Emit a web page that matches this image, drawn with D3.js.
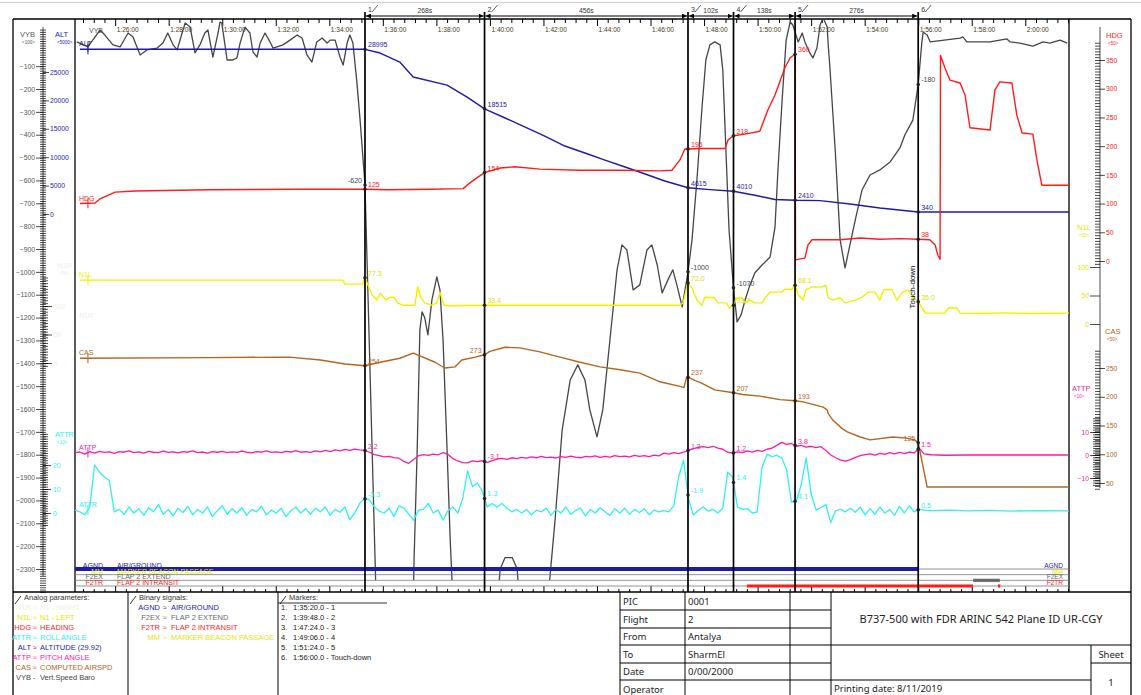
<!DOCTYPE html>
<html><head><meta charset="utf-8">
<script src="https://cdn.jsdelivr.net/npm/d3@7"></script>
<style>
body{margin:0;background:#fff;}
svg{display:block;font-family:"Liberation Sans",Arial,sans-serif;}
</style></head><body>
<svg id="chart" width="1141" height="695"></svg>
<script>
// recording starts 1:24:30, all times below are seconds after that
const T0 = 5070;
const T_END = 2228;

const markerTimes = [650, 918, 1374, 1476, 1614, 1890];
const markerClock = ["1:35:20.0","1:39:48.0","1:47:24.0","1:49:06.0","1:51:24.0","1:56:00.0"];
const markerDesc  = ["1","2","3","4","5","Touch-down"];

const timeTicks = ["1:26:00","1:28:00","1:30:00","1:32:00","1:34:00","1:36:00","1:38:00","1:40:00","1:42:00",
  "1:44:00","1:46:00","1:48:00","1:50:00","1:52:00","1:54:00","1:56:00","1:58:00","2:00:00"];

// ---- analog parameters [t, value] ----
const ALT = [[11,28995],[650,28995],[684,28340],[728,26750],[758,24110],[834,22700],[879,20590],[918,18515],
  [964,16900],[1009,15310],[1053,13730],[1098,11970],[1143,10740],[1188,9500],[1233,8270],[1278,7040],[1322,5810],
  [1374,4615],[1423,4300],[1476,4010],[1524,3300],[1569,2550],[1614,2410],[1670,2350],[1737,1760],[1804,1060],
  [1890,340],[2228,340]];

const HDG = [[11,100],[45,101],[56,108],[90,120],[135,122],[300,124],[500,125],[650,125],[700,124],[800,125],
  [870,126],[885,136],[903,146],[918,154],[953,162],[986,164],[1042,160],[1132,158],[1222,158],[1311,157],
  [1338,158],[1356,176],[1367,195],[1374,195],[1401,196],[1457,196],[1464,211],[1476,218],[1502,221],[1535,226],
  [1553,263],[1569,289],[1591,336],[1603,354],[1614,360],[1615,2],[1636,5],[1643,28],[1652,37],[1715,37],
  [1760,40],[1804,38],[1849,39],[1890,38],[1916,37],[1928,28],[1934,10],[1939,3],[1940,358],[1950,336],
  [1961,315],[1984,310],[1995,289],[2006,232],[2051,228],[2062,298],[2073,312],[2100,310],[2111,254],
  [2123,223],[2147,221],[2156,176],[2167,132],[2228,132]];

const N1L = [[11,77],[300,77],[600,77],[605,70],[645,70],[650,81],[657,68],[666,51],[677,42],[684,54],[697,42],
  [706,47],[715,47],[723,37],[734,33],[762,33],[768,65],[775,47],[784,37],[800,33],[811,37],[818,56],[827,33],
  [841,32],[918,33],[1356,33],[1363,37],[1370,60],[1374,72],[1383,63],[1394,42],[1405,33],[1412,47],[1434,46],
  [1441,37],[1461,37],[1466,28],[1476,33],[1484,46],[1495,46],[1502,37],[1513,42],[1524,37],[1540,37],[1547,46],
  [1558,56],[1585,56],[1591,61],[1607,61],[1614,68],[1621,51],[1632,42],[1638,60],[1652,65],[1674,65],[1683,68],
  [1688,46],[1699,42],[1715,46],[1726,37],[1749,42],[1764,47],[1778,56],[1793,56],[1804,42],[1813,60],[1831,60],
  [1842,42],[1855,56],[1867,60],[1878,47],[1890,39],[1906,19],[1950,19],[1957,28],[1977,28],[1984,19],
  [2030,18.5],[2080,19.5],[2140,18.5],[2228,19]];

const CAS = [[11,267],[300,268],[480,269],[550,264],[605,257],[650,254],[684,260],[728,267],[758,276],[773,271],
  [807,260],[829,250],[852,252],[867,264],[897,269],[918,273],[930,279],[964,286],[997,285],[1042,278],[1087,269],
  [1132,260],[1177,252],[1222,247],[1266,241],[1311,226],[1356,218],[1365,216],[1370,232],[1374,234],[1390,228],
  [1401,225],[1434,212],[1476,207],[1497,204],[1535,201],[1580,195],[1614,193],[1632,191],[1677,182],[1686,177],
  [1688,171],[1699,159],[1719,145],[1731,139],[1760,130],[1782,125],[1833,130],[1864,128],[1882,125],[1890,120],
  [1901,78],[1910,43],[1939,43],[2228,43]];

const VYB = [[4,6],[29,-16],[45,28],[56,58],[67,36],[85,-7],[101,-16],[119,45],[130,28],[146,-51],[161,-29],
  [184,-21],[197,1],[208,45],[220,-7],[229,-29],[240,45],[247,89],[258,71],[269,-42],[280,-7],[291,45],[298,58],
  [309,-60],[321,49],[325,93],[329,89],[341,-73],[354,-73],[363,-64],[370,1],[381,71],[392,45],[399,-38],[408,-60],
  [415,1],[426,45],[437,6],[444,-21],[466,-7],[482,14],[498,36],[509,23],[520,-51],[531,-82],[542,6],[554,23],
  [565,1],[572,14],[583,14],[594,-60],[601,-95],[610,1],[616,36],[623,1],[632,-174],[639,-336],[650,-620],
  [657,-1123],[666,-1779],[675,-2435],[684,-2870],[700,-3100],[740,-3100],[755,-2700],[760,-2260],[767,-1779],
  [773,-1254],[778,-1175],[784,-1201],[791,-1276],[800,-1123],[811,-1022],[818,-1079],[825,-1298],[834,-1779],
  [841,-2172],[847,-2435],[860,-2900],[920,-2900],[941,-2600],[953,-2300],[964,-2250],[980,-2250],[991,-2300],
  [1002,-2600],[1020,-2900],[1045,-2900],[1060,-2435],[1076,-2086],[1092,-1691],[1110,-1473],[1127,-1407],
  [1143,-1473],[1154,-1604],[1170,-1722],[1183,-1604],[1199,-1298],[1215,-991],[1226,-882],[1237,-904],
  [1251,-1079],[1266,-1057],[1282,-904],[1293,-882],[1305,-970],[1316,-1092],[1329,-1035],[1340,-991],
  [1349,-1057],[1361,-1153],[1374,-1000],[1383,-860],[1394,-598],[1405,-292],[1414,-73],[1423,-7],[1434,6],
  [1446,-7],[1452,-117],[1459,-467],[1466,-817],[1476,-1070],[1484,-1219],[1493,-1188],[1502,-1123],[1513,-1057],
  [1524,-1004],[1540,-970],[1558,-935],[1569,-804],[1576,-541],[1585,-248],[1594,14],[1603,93],[1609,80],
  [1614,49],[1621,6],[1630,45],[1636,6],[1647,-42],[1654,-64],[1663,-21],[1670,80],[1677,111],[1686,71],
  [1688,1],[1692,-104],[1704,-467],[1715,-860],[1726,-983],[1737,-882],[1749,-773],[1764,-642],[1782,-576],
  [1804,-554],[1827,-519],[1849,-458],[1860,-401],[1872,-358],[1878,-336],[1890,-180],[1898,1],[1901,49],
  [1910,36],[1917,6],[1984,23],[1990,28],[1999,6],[2051,6],[2073,14],[2089,19],[2096,6],[2118,1],[2147,-12],
  [2170,6],[2185,1],[2208,14],[2224,1]];

// roll and pitch are sampled every 11 s up to just after touch-down, then a few points
const GRID_STEP = 11;
const ATTR_GRID = [1.2,0.5,-0.8,2.5,20,17,15,13.5,0.5,1.5, -0.5,2.5,0,1.8,-1,2.2,0.5,3.5,-0.5,1.5,
  -1.2,2,0.2,2.8,-0.8,1.5,0,2.5,-1.5,1, 3,-0.5,1.8,0,2.2,-1,1.5,0.5,2.8,-0.8, 1.2,0,2,-1.5,1,2.5,0,1.8,-0.5,2,
  0.5,2.5,-1,1.5,0.3,2.5,-2.8,0,4,6, 5.5,2.5,0.8,0,2,-1.5,3,2,-0.5,-3, 1.2,1.5,4,0,1.2,-3,1,2.5,0,6,
  17.5,11,12.5,9,2.5,4,2.5,4,2,0.5, 1.5,0,1.5,-0.8,1.2,0.5,2,-1,1.5,0, 2.5,-0.5,1,2,-1.2,1.5,0,2.2,0.5,-1,
  1.8,0,2,-0.5,1.5,0.2,1.8,-0.8,1.2,0.5, 1,0.5,3,15,22,6,-0.8,1,2.5,0.8, 1.5,0,2,17,15,2.5,1.5,1.8,0,0.5,
  19,24.5,23.5,24,23,18,4.5,5,12,23, 8,1.2,2.3,3.5,-4,1,1.5,0.5,2,0.3, 2.5,-0.8,1.8,-0.5,2.5,0,1.5,-1,2.8,0,
  3,0.5,1.5,1.2];
const ATTR_TAIL = [[1920,1.0],[1960,1.2],[2000,0.9],[2050,1.1],[2100,0.8],[2160,1.0],[2228,0.9]];

const ATTP_GRID = [1.0,1.3,0.4,1.5,0.8,1.6,1.1,1.4,0.7,1.5, 1.2,1.8,1.0,1.4,0.8,1.6,1.2,1.0,1.7,1.1,
  1.4,0.9,1.5,1.2,1.8,1.0,1.3,0.8,1.5,1.2, 1.6,1.0,1.4,1.1,1.7,1.2,0.9,1.5,1.3,1.8, 1.1,1.4,1.0,1.6,1.3,1.9,1.2,1.5,1.1,1.8,
  1.4,2.0,1.5,2.2,1.8,2.4,2.0,2.6,2.2,2.0, 1.2,0.2,-0.3,-0.8,-0.6,-1.1,-1.4,-2.8,-3.6,-2.0,
  -0.3,0.2,-0.2,0.4,0.1,1.0,0.3,-1.6,-2.6,-3.3, -3.4,-2.6,-2.9,-2.5,-3.2,-2.4,-1.8,-1.5,-1.9,-1.2,
  -1.6,-1.0,-1.4,-0.8,-1.2,-0.6,-1.1,-0.9,-1.3,-0.7, -1.0,-0.5,-0.9,-1.2,-0.6,-0.8,-0.4,-1.0,-0.6,-0.9,
  -0.3,-0.7,-0.5,-0.8,-0.2,-0.6,-0.3,-0.7,-0.1,-0.4, 0.8,0.4,1.0,0.6,1.2,2.0,2.8,3.3,3.6,3.2,
  3.8,3.0,2.5,1.2,0.8,1.4,1.0,1.8,1.3,2.0, 1.6,2.5,3.0,4.2,5.5,4.6,5.0,3.8,4.2,3.4,
  3.8,3.2,3.6,2.0,0,-1.2,-2.2,-2.7,-2.0,-1.0, -0.3,0.2,0.5,-0.1,0.7,0.3,1.0,0.5,1.1,0.6, 1.3,0.9,3.0,0.5];
const ATTP_TAIL = [[1920,0.1],[1950,-0.1],[2000,0],[2228,0]];

// value annotations at the six markers
const ALT_LBL  = ["28995","18515","4615","4010","2410","340"];
const HDG_LBL  = ["125","154","195","218","360","38"];
const VYB_LBL  = ["-620","","-1000","-1070","","-180"];
const N1L_LBL  = ["77.3","33.4","72.0","33.7","68.1","35.0"];
const CAS_LBL  = ["254","273","237","207","193","125"];
const ATTP_LBL = ["2.2","-3.1","1.3","1.2","3.8","1.5"];
const ATTR_LBL = ["-3.3","1.3","-1.9","1.4","4.1","0.5"];

// ---- binary signals: on intervals ----
const binCodes = ["AGND","MM","F2EX","F2TR"];
const binNames = ["AIR/GROUND","MARKER BEACON PASSAGE","FLAP 2 EXTEND","FLAP 2 INTRANSIT"];
const AGND_ON = [[0,1890]];
const MM_ON = [];
const F2EX_ON = [[2013,2073]];
const F2TR_ON = [[1506,2013],[2069,2074]];

// ---- legend / table texts ----
const analogCodes = ["N1R","N1L","HDG","ATTR","ALT","ATTP","CAS","VYB"];
const analogNames = ["N1 - RIGHT","N1 - LEFT","HEADING","ROLL ANGLE","ALTITUDE (29.92)","PITCH ANGLE","COMPUTED AIRSPD","Vert.Speed Baro"];
const infoKeys = ["PIC","Flight","From","To","Date","Operator"];
const infoVals = ["0001","2","Antalya","SharmEl"," 0/00/2000",""];
const titleText = "B737-500 with FDR ARINC 542  Plane ID UR-CGY";
const printDate = "Printing date:  8/11/2019";

// ================== drawing ==================
const svg = d3.select("#chart");
const P = {l:75, r:1069, t:19, b:592};
const colors = {VYB:"#454545", ALT:"#1c1ca8", HDG:"#ff1c1c", N1L:"#f2f200", N1R:"#f4f4ee",
  CAS:"#b5651d", ATTP:"#ff1aa8", ATTR:"#2ef2f2", AGND:"#1c1ca8", MM:"#e8e800", F2EX:"#6a6a6a", F2TR:"#ff1c1c"};
const fmt = d3.format("d");

const x = d3.scaleLinear().domain([0, T_END]).range([P.l, P.r]);
const yVYB = d3.scaleLinear().domain([0,-2300]).range([43.3,569]);
const yALT = d3.scaleLinear().domain([0,25000]).range([214,72]);
const yHDG = d3.scaleLinear().domain([0,350]).range([261,60]);
const yN1L = d3.scaleLinear().domain([0,100]).range([324,267]);
const yN1R = d3.scaleLinear().domain([0,100]).range([363,306]);
const yCAS = d3.scaleLinear().domain([50,250]).range([483,368]);
const yATTP = d3.scaleLinear().domain([-10,10]).range([478,432]);
const yATTR = d3.scaleLinear().domain([0,20]).range([513,465]);

const onGrid = vals => vals.map((v,i)=>[i*GRID_STEP, v]);
const ATTR = onGrid(ATTR_GRID).concat(ATTR_TAIL);
const ATTP = onGrid(ATTP_GRID).concat(ATTP_TAIL);

function clockSec(s){ const p = s.split(":").map(Number); return p[0]*3600+p[1]*60+p[2]-T0; }

function ln(g, x1,y1,x2,y2, stroke="#000", w=1){
  return g.append("line").attr("x1",x1).attr("y1",y1).attr("x2",x2).attr("y2",y2)
    .attr("stroke",stroke).attr("stroke-width",w);
}
function tx(g, xx, yy, s, opt={}){
  return g.append("text").attr("x",xx).attr("y",yy).text(s)
    .attr("font-size",opt.size||7).attr("fill",opt.fill||"#000")
    .attr("text-anchor",opt.anchor||"start")
    .attr("font-family",opt.font||null).attr("font-weight",opt.weight||null);
}

// thin grey line at very top
ln(svg, 0, 2.5, 1141, 2.5, "#cfcfcf", 1);

// ---- frame ----
const frame = svg.append("g");
ln(frame, 13, P.t, 1131, P.t, "#000", 1.3);
ln(frame, 13, P.t, 13, 695, "#000", 1.3);
ln(frame, 1131, P.t, 1131, 695, "#000", 1.3);
ln(frame, P.l, P.t, P.l, P.b, "#000", 1.3);
ln(frame, P.r, P.t, P.r, P.b, "#000", 1.3);

// ---- time axes ----
const majorT = timeTicks.map(clockSec);
const minorT = d3.range(majorT[0]-72, T_END, 24).filter(t=>t>0 && majorT.indexOf(t)<0);

const topAx = svg.append("g").attr("transform",`translate(0,${P.t})`);
topAx.call(d3.axisBottom(x).tickValues(minorT).tickSize(4).tickFormat(""));
topAx.append("g").call(d3.axisBottom(x).tickValues(majorT).tickSize(7).tickFormat((d,i)=>timeTicks[i]));
topAx.selectAll(".domain").remove();
topAx.selectAll("line").attr("stroke","#000");
topAx.selectAll("text").attr("text-anchor","start").attr("x",1).attr("y",8).attr("dy","0.71em")
  .attr("font-size",6.6).attr("fill","#4a3a10").attr("font-family","Liberation Sans, Arial");

const botAx = svg.append("g").attr("transform",`translate(0,${P.b})`);
botAx.call(d3.axisTop(x).tickValues(minorT).tickSize(3).tickFormat(""));
botAx.append("g").call(d3.axisTop(x).tickValues(majorT).tickSize(6).tickFormat(""));
botAx.selectAll(".domain").remove();
botAx.selectAll("line").attr("stroke","#000");

// ---- left rulers ----
const left = svg.append("g");
const LX = 43;
ln(left, LX, 27, LX, 576, "#000", 1.2);
left.append("g").attr("transform",`translate(${LX},0)`)
  .call(d3.axisLeft(yVYB).tickValues(d3.range(-2400, 70, 10)).tickSize(3).tickFormat(""));
left.append("g").attr("transform",`translate(${LX},0)`)
  .call(d3.axisRight(yVYB).tickValues(d3.range(-2400, 70, 10)).tickSize(3).tickFormat(""));
left.append("g").attr("class","lab").attr("transform",`translate(${LX},0)`)
  .call(d3.axisLeft(yVYB).tickValues(d3.range(-100,-2301,-100)).tickSize(7).tickPadding(1).tickFormat(fmt))
  .selectAll("text").attr("fill","#555");
left.append("g").attr("class","lab").attr("transform",`translate(${LX},0)`)
  .call(d3.axisRight(yALT).tickValues(d3.range(0,25001,5000)).tickSize(6).tickPadding(1).tickFormat(fmt))
  .selectAll("text").attr("fill",colors.ALT);
left.append("g").attr("transform",`translate(${LX},0)`)
  .call(d3.axisRight(yN1R).tickValues(d3.range(-5,155,5)).tickSize(5).tickFormat(""));
left.append("g").attr("class","lab").attr("transform",`translate(${LX},0)`)
  .call(d3.axisRight(yN1R).tickValues([0,50,100]).tickSize(9).tickPadding(2).tickFormat(fmt))
  .selectAll("text").attr("fill","#eeeee0");
left.append("g").attr("transform",`translate(${LX},0)`)
  .call(d3.axisRight(yATTR).tickValues(d3.range(-5,34,1)).tickSize(5).tickFormat(""));
left.append("g").attr("class","lab").attr("transform",`translate(${LX},0)`)
  .call(d3.axisRight(yATTR).tickValues([0,10,20]).tickSize(8).tickPadding(2).tickFormat(fmt))
  .selectAll("text").attr("fill",colors.ATTR);

// ---- right rulers ----
const right = svg.append("g");
const RX = 1100;
ln(right, RX, 27, RX, 488, "#000", 1.2);
right.append("g").attr("transform",`translate(${RX},0)`)
  .call(d3.axisLeft(yHDG).tickValues(d3.range(-5,385,5)).tickSize(5).tickFormat(""));
right.append("g").attr("class","lab").attr("transform",`translate(${RX},0)`)
  .call(d3.axisRight(yHDG).tickValues(d3.range(0,351,50)).tickSize(5).tickPadding(1).tickFormat(fmt))
  .selectAll("text").attr("fill",colors.HDG);
right.append("g").attr("transform",`translate(${RX},0)`)
  .call(d3.axisLeft(yCAS).tickValues(d3.range(40,282,5)).tickSize(5).tickFormat(""));
right.append("g").attr("class","lab").attr("transform",`translate(${RX},0)`)
  .call(d3.axisRight(yCAS).tickValues(d3.range(50,251,50)).tickSize(5).tickPadding(1).tickFormat(fmt))
  .selectAll("text").attr("fill",colors.CAS);
right.append("g").attr("class","lab").attr("transform",`translate(${RX},0)`)
  .call(d3.axisLeft(yN1L).tickValues([0,50,100]).tickSize(10).tickPadding(1).tickFormat(fmt))
  .selectAll("text").attr("fill","#e6e600");
right.append("g").attr("transform",`translate(${RX},0)`)
  .call(d3.axisLeft(yATTP).tickValues(d3.range(-13,17,1)).tickSize(7).tickFormat(""));
right.append("g").attr("class","lab").attr("transform",`translate(${RX},0)`)
  .call(d3.axisLeft(yATTP).tickValues([-10,0,10]).tickSize(10).tickPadding(1).tickFormat(fmt))
  .selectAll("text").attr("fill",colors.ATTP);

svg.selectAll(".domain").remove();
svg.selectAll(".lab text").attr("font-size",6.8).attr("font-family","Liberation Sans, Arial");
left.selectAll("line").attr("stroke","#000").attr("stroke-width",0.7);
right.selectAll("line").attr("stroke","#000").attr("stroke-width",0.7);

// axis headers
function header(xx, yy, name, unit, col, anchor){
  tx(svg, xx, yy, name, {size:7.5, fill:col, anchor:anchor});
  tx(svg, xx+ (anchor==="end"?0:2), yy+7, unit, {size:4.5, fill:col, anchor:anchor});
}
header(20, 37, "VYB", "<100>", "#555");
header(55, 37, "ALT", "<5000>", colors.ALT);
header(57, 268, "N1R", "<50>", "#eeeee4");
header(55, 437, "ATTR", "<10>", colors.ATTR);
header(1106, 38, "HDG", "<50>", colors.HDG);
header(1077, 230, "N1L", "<50>", "#e6e600");
header(1105, 334, "CAS", "<50>", colors.CAS);
header(1072, 391, "ATTP", "<10>", colors.ATTP);

// ---- series ----
svg.append("clipPath").attr("id","pc").append("rect")
  .attr("x",P.l).attr("y",P.t).attr("width",P.r-P.l).attr("height",580-P.t);
const plot = svg.append("g").attr("clip-path","url(#pc)");

const series = [
  {key:"VYB", data:VYB, y:yVYB, lbl:VYB_LBL, w:1.3},
  {key:"ALT", data:ALT, y:yALT, lbl:ALT_LBL, w:1.4},
  {key:"HDG", data:HDG, y:yHDG, lbl:HDG_LBL, w:1.4},
  {key:"N1L", data:N1L, y:yN1L, lbl:N1L_LBL, w:1.4},
  {key:"CAS", data:CAS, y:yCAS, lbl:CAS_LBL, w:1.4},
  {key:"ATTP", data:ATTP, y:yATTP, lbl:ATTP_LBL, w:1.3},
  {key:"ATTR", data:ATTR, y:yATTR, lbl:ATTR_LBL, w:1.3}
];
const bis = d3.bisector(d=>d[0]).left;
function valAt(data, t){
  const i = Math.max(1, Math.min(data.length-1, bis(data, t)));
  const a = data[i-1], b = data[i];
  return a[1] + (b[1]-a[1]) * (t-a[0]) / ((b[0]-a[0])||1);
}

series.forEach(s=>{
  const line = d3.line().x(d=>x(d[0])).y(d=>s.y(d[1]));
  plot.append("path").datum(s.data).attr("d",line).attr("fill","none")
    .attr("stroke",colors[s.key]).attr("stroke-width",s.w).attr("stroke-linejoin","round");
  // start cross
  const y0 = s.y(valAt(s.data, 29));
  ln(plot, x(29), y0-5, x(29), y0+5, colors[s.key], 1);
  // name near the left edge
  if (s.key !== "VYB")
    tx(plot, P.l+4, s.y(s.data[0][1]) - 3, s.key, {size:7, fill:colors[s.key]});
});
tx(plot, P.l+14, 33, "VYB", {size:7, fill:"#555"});
tx(plot, P.l+4, 318, "N1R", {size:7, fill:"#eeeee4"});

// ---- binary signals ----
const yBin = d3.scalePoint().domain(binCodes).range([569, 586]);
const bin = svg.append("g");
binCodes.forEach(c=>{
  ln(bin, P.l, yBin(c), P.r, yBin(c), "#7a7a7a", 0.8);
});
const binOn = {AGND:AGND_ON, MM:MM_ON, F2EX:F2EX_ON, F2TR:F2TR_ON};
binCodes.forEach(c=>{
  binOn[c].forEach(iv=>{
    ln(bin, x(iv[0]), yBin(c), x(iv[1]), yBin(c), colors[c], c==="AGND"?4:3.2);
  });
});
binCodes.forEach((c,i)=>{
  const yy = yBin(c) - 1;
  tx(bin, P.l+28, yy, c, {size:7, fill:colors[c], anchor:"end"});
  tx(bin, P.l+42, yy, binNames[i], {size:7, fill:colors[c]});
  tx(bin, P.r-6, yy, c, {size:6.5, fill:colors[c], anchor:"end"});
});

// ---- markers ----
const mk = svg.append("g");
svg.append("defs").html(
  '<marker id="ar" viewBox="0 0 6 6" refX="6" refY="3" markerWidth="5" markerHeight="5" orient="auto-start-reverse"><path d="M0,0L6,3L0,6z" fill="#000"/></marker>');
markerTimes.forEach((t,i)=>{
  const mx = x(t);
  ln(mk, mx, 12, mx, P.b, "#000", 1.7);
  tx(mk, mx+3, 12, String(i+1), {size:7, fill:"#333"});
  ln(mk, mx+7, 12, mx+13, 5, "#333", 0.8);
  if (i>0){
    const px = x(markerTimes[i-1]);
    mk.append("line").attr("x1",px+1).attr("y1",16).attr("x2",mx-1).attr("y2",16)
      .attr("stroke","#000").attr("stroke-width",1)
      .attr("marker-start","url(#ar)").attr("marker-end","url(#ar)");
    tx(mk, (px+mx)/2, 13, (t-markerTimes[i-1])+"s", {size:6.8, fill:"#333", anchor:"middle"});
  }
});
mk.append("text").attr("transform",`translate(${x(markerTimes[5])-3},${287}) rotate(-90)`)
  .attr("text-anchor","middle").attr("font-size",8).text("Touch-down");

// values at markers
const leftSide = {VYB:[0], CAS:[1,5]};
series.forEach(s=>{
  markerTimes.forEach((t,i)=>{
    if (!s.lbl[i]) return;
    const v = valAt(s.data, t);
    const yy = s.y(v);
    if (yy < P.t || yy > 580) return;
    mk.append("circle").attr("cx",x(t)).attr("cy",yy).attr("r",1.8).attr("fill","#222");
    const onLeft = (leftSide[s.key]||[]).indexOf(i) >= 0;
    tx(mk, x(t) + (onLeft?-3:3), yy-2, s.lbl[i],
      {size:7, fill: s.key==="N1L" ? "#e0e000" : (s.key==="VYB" ? "#444" : colors[s.key]), anchor: onLeft?"end":"start"});
  });
});

// ---- bottom table ----
const tb = svg.append("g").attr("font-family","Liberation Sans, Arial");
ln(tb, 13, P.b, 1131, P.b, "#000", 1.3);
[128, 278, 620, 685, 790, 831].forEach(xx=>ln(tb, xx, P.b, xx, 695, "#000", 1));
ln(tb, 1091, 645, 1091, 695, "#000", 1);
[610,628,645,663,680].forEach(yy=>ln(tb, 620, yy, 831, yy, "#000", 1));
ln(tb, 831, 645, 1131, 645, "#000", 1);
ln(tb, 831, 680, 1091, 680, "#000", 1);
ln(tb, 1091, 663, 1131, 663, "#000", 1);

// section headers
[[13,"Analog parameters:"],[128,"Binary signals:"],[278,"Markers:"]].forEach(h=>{
  ln(tb, h[0]+2, 604, h[0]+8, 596, "#000", 0.8);
  tx(tb, h[0]+11, 600, h[1], {size:7.5, fill:"#333"});
});
ln(tb, 278, 603, 387, 603, "#000", 0.8);

analogCodes.forEach((c,i)=>{
  const yy = 610 + i*10;
  const col = c==="N1R" ? "#f0f0e6" : (c==="N1L" ? "#e6e600" : colors[c]);
  tx(tb, 31, yy, c, {size:7.5, fill:col, anchor:"end"});
  tx(tb, 33, yy, c==="VYB" ? "-" : "\u2248", {size:7, fill:col});
  tx(tb, 40, yy, analogNames[i], {size:7.5, fill:col});
});
const binLegend = ["AGND","F2EX","F2TR","MM"];
binLegend.forEach((c,i)=>{
  const yy = 610 + i*10;
  const col = c==="MM" ? "#e6e600" : colors[c];
  tx(tb, 160, yy, c, {size:7.5, fill:col, anchor:"end"});
  tx(tb, 163, yy, "\u2248", {size:7, fill:col});
  tx(tb, 171, yy, binNames[binCodes.indexOf(c)], {size:7.5, fill:col});
});
markerClock.forEach((c,i)=>{
  const yy = 610 + i*10;
  tx(tb, 281, yy, (i+1)+".", {size:7.5, fill:"#222"});
  tx(tb, 293, yy, c+" - "+markerDesc[i], {size:7.5, fill:"#222"});
});

const rowY = [592,610,628,645,663,680,698];
infoKeys.forEach((k,i)=>{
  const yy = (rowY[i]+rowY[i+1])/2 + 3.5;
  tx(tb, 623, yy, k, {size:9.5, fill:"#222", font:"Noto Sans"});
  tx(tb, 688, yy, infoVals[i], {size:9.5, fill:"#222", font:"Noto Sans"});
});
tx(tb, 981, 623, titleText, {size:11, fill:"#222", anchor:"middle", font:"Noto Sans"});
tx(tb, 1111, 658, "Sheet", {size:9.5, fill:"#222", anchor:"middle", font:"Noto Sans"});
tx(tb, 1111, 686, "1", {size:9.5, fill:"#222", anchor:"middle", font:"Noto Sans"});
tx(tb, 834, 692, printDate, {size:9.5, fill:"#222", font:"Noto Sans"});
</script>
</body></html>
